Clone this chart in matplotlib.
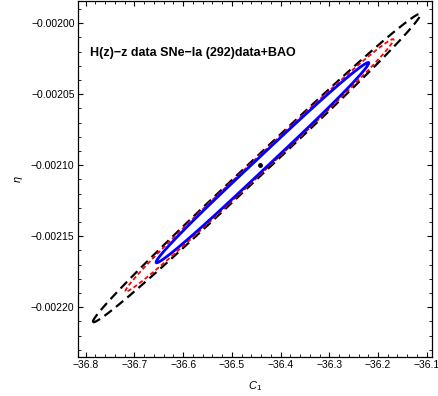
import numpy as np
import matplotlib
matplotlib.use('Agg')
import matplotlib.pyplot as plt
from matplotlib.ticker import MultipleLocator, FuncFormatter

plt.rcParams['font.family'] = ['Liberation Sans', 'DejaVu Sans']
plt.rcParams['mathtext.fontset'] = 'custom'
plt.rcParams['mathtext.it'] = 'Liberation Sans:italic'
plt.rcParams['mathtext.rm'] = 'Liberation Sans'

# best fit point
c1_best = -36.443
eta_best = -0.00210

# confidence contours, outer to inner: tips along the long axis,
# and half thickness (in eta) of the band at the best fit C1
contour_names = ['3sigma', '2sigma', '1sigma']
tip_lo_c1 = [-36.786, -36.723, -36.657]
tip_lo_eta = [-0.002210, -0.002187, -0.002168]
tip_hi_c1 = [-36.114, -36.169, -36.221]
tip_hi_eta = [-0.001993, -0.002011, -0.002027]
half_thick_eta = [8.0e-6, 7.0e-6, 5.7e-6]

colors = ['black', 'red', 'blue']
styles = [(0, (4.2, 2.4)), (0, (2.4, 1.5)), 'solid']
widths = [1.6, 1.3, 2.0]

xlim = (-36.8158, -36.0891)
ylim = (-0.002235, -0.0019843)

fig = plt.figure(figsize=(4.39, 3.96), dpi=100)
ax = fig.add_axes([0.1777, 0.0985, 0.8064, 0.899])

# work in axis-normalised units so that "along" and "across" are square
xs = xlim[1] - xlim[0]
ys = ylim[1] - ylim[0]
gx = np.linspace(xlim[0], xlim[1], 700)
gy = np.linspace(ylim[0], ylim[1], 700)
X, Y = np.meshgrid(gx, gy)

# common long axis through the best fit, direction from the outer tips
ux = (tip_hi_c1[0] - tip_lo_c1[0]) / xs
uy = (tip_hi_eta[0] - tip_lo_eta[0]) / ys
norm = np.hypot(ux, uy)
ux, uy = ux / norm, uy / norm

P = (X - c1_best) / xs
Q = (Y - eta_best) / ys
A = P * ux + Q * uy
B = -P * uy + Q * ux

for i in range(len(contour_names)):
    a_lo = abs(((tip_lo_c1[i] - c1_best) / xs) * ux + ((tip_lo_eta[i] - eta_best) / ys) * uy)
    a_hi = abs(((tip_hi_c1[i] - c1_best) / xs) * ux + ((tip_hi_eta[i] - eta_best) / ys) * uy)
    b_half = half_thick_eta[i] / ys * ux
    along = np.where(A < 0, A / a_lo, A / a_hi)
    chi = np.abs(along) ** 3 + (B / b_half) ** 2
    ax.contour(X, Y, chi, levels=[1.0], colors=colors[i],
               linestyles=[styles[i]], linewidths=widths[i])

ax.plot([c1_best], [eta_best], 'o', color='black', ms=2.5)

ax.set_xlim(xlim)
ax.set_ylim(ylim)

ax.xaxis.set_major_locator(MultipleLocator(0.1))
ax.xaxis.set_minor_locator(MultipleLocator(0.02))
ax.yaxis.set_major_locator(MultipleLocator(0.00005))
ax.yaxis.set_minor_locator(MultipleLocator(0.00001))
ax.xaxis.set_major_formatter(FuncFormatter(lambda v, pos: f'{v:.1f}'.replace('-', '\u2212')))
ax.yaxis.set_major_formatter(FuncFormatter(lambda v, pos: f'{v:.5f}'.replace('-', '\u2212')))

ax.tick_params(which='both', direction='in', top=True, right=True, labelsize=7.5, pad=2.5)
ax.tick_params(which='major', length=3.5, width=0.8)
ax.tick_params(which='minor', length=2, width=0.6)
for s in ax.spines.values():
    s.set_linewidth(0.9)

ax.set_xlabel('$C_1$', fontsize=8, labelpad=6)
ax.set_ylabel('$\\eta$', fontsize=8, labelpad=4)

ax.text(0.034, 0.855, 'H(z)\u2212z data SNe\u2212Ia (292)data+BAO', transform=ax.transAxes,
        fontsize=9, fontweight='bold', va='center', ha='left')

fig.savefig('out.png', dpi=100)
